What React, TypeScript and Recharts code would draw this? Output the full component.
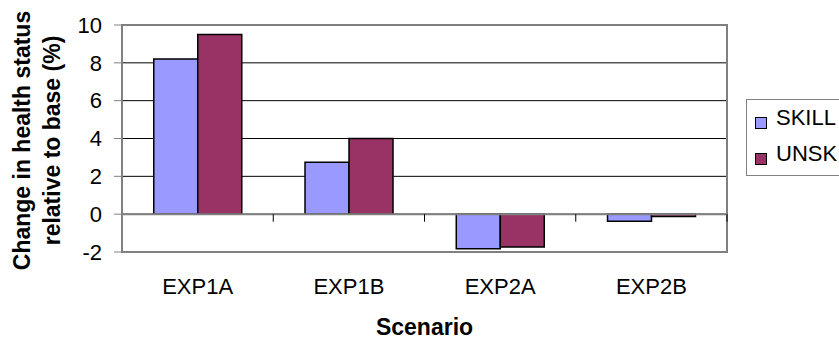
import React from "react";
import {
  Bar,
  BarChart,
  CartesianGrid,
  Legend,
  ReferenceArea,
  ReferenceLine,
  XAxis,
  YAxis,
} from "recharts";

// Change in health status vs. base, by scenario and labour type
const scenarios = ["EXP1A", "EXP1B", "EXP2A", "EXP2B"];
const skilled = [8.2, 2.75, -1.83, -0.37];
const unskilled = [9.5, 4.0, -1.74, -0.12];
const yTicks = [-2, 0, 2, 4, 6, 8, 10];

const data = scenarios.map((s, i) => ({
  scenario: s,
  SKILL: skilled[i],
  UNSK: unskilled[i],
}));

const FONT = "Arial, 'Liberation Sans', sans-serif";
const FRAME = "#808080";
// how far the category tick marks hang below the zero line (value units)
const TICK_DROP = 0.4;

function YTitle(props: any) {
  const vb = props.viewBox ?? {};
  const cy = (vb.y ?? 0) + (vb.height ?? 0) / 2 + 2;
  const common = {
    textAnchor: "middle" as const,
    fontFamily: FONT,
    fontSize: 23,
    fontWeight: "bold",
    fill: "#000",
  };
  return (
    <g>
      <text {...common} transform={`translate(30, ${cy}) rotate(-90)`}>
        Change in health status
      </text>
      <text {...common} transform={`translate(60, ${cy}) rotate(-90)`}>
        relative to base (%)
      </text>
    </g>
  );
}

function LegendBox({ payload }: any) {
  const items = payload ?? [];
  return (
    <div
      style={{
        position: "relative",
        width: 130,
        height: 77,
        border: `1px solid ${FRAME}`,
        boxSizing: "border-box",
        background: "#fff",
        fontFamily: FONT,
        fontSize: 22,
        lineHeight: "22px",
        color: "#000",
      }}
    >
      {items.map((it: any, i: number) => (
        <React.Fragment key={it.value}>
          <span
            style={{
              position: "absolute",
              left: 8,
              top: 17 + i * 36,
              width: 10,
              height: 10,
              background: it.color,
              border: "1px solid #000",
            }}
          />
          <span
            style={{
              position: "absolute",
              left: 29,
              top: 7 + i * 36,
              whiteSpace: "nowrap",
            }}
          >
            {it.value}
          </span>
        </React.Fragment>
      ))}
    </div>
  );
}

export default function App() {
  return (
    <div
      style={{
        position: "absolute",
        left: 0,
        top: 0,
        width: 839,
        height: 340,
        overflow: "hidden",
        background: "#fff",
      }}
    >
      <BarChart
        width={839}
        height={340}
        data={data}
        margin={{ top: 25, right: 112, bottom: 0, left: 0 }}
        barCategoryGap="21%"
        barGap={0}
      >
        <CartesianGrid vertical={false} stroke="#000" strokeWidth={1} />
        <XAxis
          dataKey="scenario"
          height={88}
          axisLine={false}
          tickLine={false}
          tickSize={0}
          tickMargin={26}
          tick={{ fontSize: 22, fill: "#000", fontFamily: FONT }}
          label={{
            value: "Scenario",
            position: "insideBottom",
            offset: 5,
            fontSize: 23,
            fontWeight: "bold",
            fill: "#000",
            fontFamily: FONT,
          }}
        />
        <YAxis
          domain={[-2, 10]}
          ticks={yTicks}
          interval={0}
          width={122}
          tickSize={8}
          tickMargin={12}
          axisLine={{ stroke: FRAME, strokeWidth: 2 }}
          tickLine={{ stroke: FRAME }}
          tick={{ fontSize: 22, fill: "#000", fontFamily: FONT }}
          label={{ content: YTitle }}
        />
        <ReferenceArea
          y1={-2}
          y2={10}
          fill="none"
          fillOpacity={0}
          stroke={FRAME}
          strokeWidth={2}
          ifOverflow="visible"
        />
        <ReferenceLine y={0} stroke={FRAME} strokeWidth={2} />
        {scenarios.map((s) => (
          <ReferenceLine
            key={s}
            segment={[
              { x: s, y: 0 },
              { x: s, y: -TICK_DROP },
            ]}
            position="start"
            stroke="#000"
            strokeWidth={1}
          />
        ))}
        <ReferenceLine
          segment={[
            { x: scenarios[scenarios.length - 1], y: 0 },
            { x: scenarios[scenarios.length - 1], y: -TICK_DROP },
          ]}
          position="end"
          stroke="#000"
          strokeWidth={1}
        />
        <Legend
          layout="horizontal"
          align="center"
          verticalAlign="middle"
          wrapperStyle={{ left: 746, top: 99, width: 130 }}
          content={LegendBox}
        />
        <Bar
          dataKey="SKILL"
          fill="#9999FF"
          stroke="#000"
          strokeWidth={1.5}
          isAnimationActive={false}
        />
        <Bar
          dataKey="UNSK"
          fill="#993366"
          stroke="#000"
          strokeWidth={1.5}
          isAnimationActive={false}
        />
      </BarChart>
    </div>
  );
}
